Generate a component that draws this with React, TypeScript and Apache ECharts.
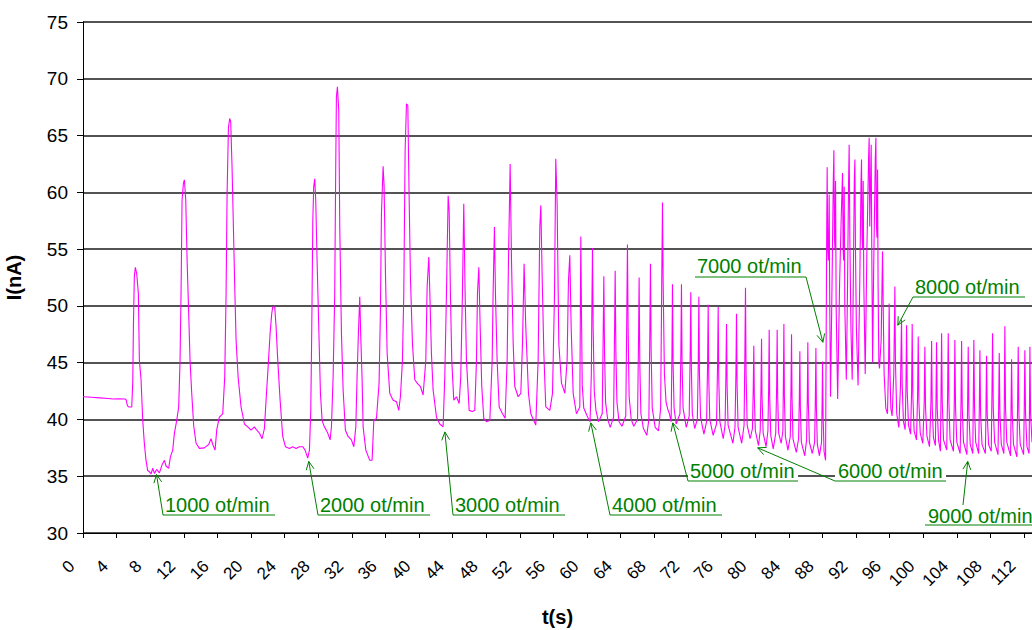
import React, { useEffect, useRef } from 'react';
import * as echarts from 'echarts';

const FONT = '"Liberation Sans", Arial, sans-serif';
const GREEN = '#008000';
const MAGENTA = '#ff00ff';

const xMin = 0;
const xMax = 112.95;
const xStep = 4;
const yMin = 30;
const yMax = 75;
const yStep = 5;

// [t (s), I (nA)]
const seg1000: [number, number][] = [
  [0, 42.0], [1.0, 41.95], [2.0, 41.9], [3.0, 41.85], [3.6, 41.8], [4.2, 41.82], [5.0, 41.8], [5.12, 41.75],
  [5.3, 41.2], [5.44, 41.1], [5.8, 41.1], [5.92, 43.2], [6.0, 48.2], [6.11, 52.6], [6.23, 53.4], [6.39, 52.85],
  [6.59, 51.1], [6.71, 45.2], [6.91, 43.5], [7.11, 39.9], [7.3, 37.9], [7.5, 36.4], [7.7, 35.5], [7.9, 35.4],
  [8.1, 35.2], [8.3, 35.7], [8.5, 35.25], [8.77, 35.6], [9.09, 35.3], [9.41, 36.0], [9.69, 36.4], [9.88, 35.9],
  [10.2, 35.7], [10.4, 36.7], [10.68, 37.3], [10.88, 38.8], [11.15, 39.9], [11.39, 41.1], [11.55, 45.2],
  [11.67, 51.1], [11.79, 59.3], [11.95, 60.8], [12.07, 61.1], [12.23, 59.3], [12.39, 54.0], [12.58, 49.3],
  [12.74, 45.2], [12.94, 42.3], [13.18, 39.4], [13.46, 37.9], [13.85, 37.45], [14.45, 37.5], [14.96, 37.8],
  [15.24, 38.3], [15.44, 37.8], [15.72, 37.3], [15.92, 39.1], [16.23, 40.2], [16.63, 40.5], [16.87, 43.75],
  [17.03, 51.1], [17.15, 59.9], [17.31, 65.7], [17.46, 66.5], [17.58, 66.2], [17.74, 62.2], [17.9, 56.95],
  [18.06, 51.7], [18.22, 47.0], [18.46, 43.75], [18.81, 41.1], [19.21, 39.6], [19.61, 39.35], [20.0, 39.05],
  [20.4, 39.35], [20.68, 39.05], [21.0, 38.8], [21.31, 38.3], [21.59, 39.2], [21.79, 41.7], [22.03, 44.6],
  [22.27, 47.6], [22.46, 49.3], [22.58, 49.9], [22.82, 49.9], [22.98, 48.15], [23.18, 45.2], [23.46, 41.7],
  [23.77, 38.5], [24.09, 37.6], [24.57, 37.45], [24.96, 37.6], [25.36, 37.45], [25.76, 37.6], [26.16, 37.6],
  [26.43, 37.3], [26.75, 36.6], [26.95, 37.3]
];

const seg2000: [number, number][] = [
  [27.11, 40.8], [27.23, 48.15], [27.35, 57.5], [27.46, 60.5], [27.58, 61.2], [27.7, 59.3], [27.86, 54.0],
  [28.06, 48.15], [28.26, 42.3], [28.46, 39.9], [28.73, 39.35], [29.13, 38.8], [29.41, 38.2], [29.57, 39.35],
  [29.77, 43.75], [29.96, 51.1], [30.08, 62.2], [30.16, 68.4], [30.28, 69.3], [30.44, 67.2], [30.56, 56.95],
  [30.76, 47.6], [30.96, 42.6], [31.23, 39.05], [31.55, 38.5], [31.95, 38.2], [32.23, 37.6], [32.47, 39.35],
  [32.62, 43.75], [32.78, 47.6], [32.94, 50.8], [33.06, 47.3], [33.22, 43.5], [33.34, 39.35], [33.66, 37.3],
  [34.13, 36.4], [34.41, 36.4], [34.61, 39.9], [34.93, 40.1], [35.24, 43.2], [35.4, 49.6], [35.52, 58.1],
  [35.72, 62.3], [35.84, 60.5], [36.0, 52.85], [36.2, 45.8], [36.51, 42.3], [36.91, 41.7], [37.31, 41.55],
  [37.58, 40.8], [37.78, 42.0], [38.02, 45.2], [38.18, 51.1], [38.34, 63.7], [38.5, 67.8], [38.66, 67.65],
  [38.81, 59.9], [38.97, 52.55], [39.21, 46.7], [39.49, 43.5], [39.77, 43.2], [40.16, 42.9], [40.48, 42.15],
  [40.8, 45.2], [40.96, 51.7], [41.16, 54.3], [41.27, 51.4], [41.47, 45.8], [41.67, 42.6], [42.07, 40.2],
  [42.46, 39.6], [42.86, 39.35]
];

const seg3000: [number, number][] = [
  [43.06, 43.75], [43.26, 51.1], [43.46, 59.7], [43.58, 58.4], [43.73, 51.1], [43.89, 45.2], [44.13, 41.7],
  [44.45, 42.0], [44.77, 41.4], [44.96, 43.75], [45.16, 51.1], [45.32, 59.0], [45.48, 51.1], [45.64, 45.2],
  [45.96, 40.8], [46.35, 40.7], [46.63, 40.8], [46.83, 45.2], [46.95, 51.1], [47.11, 53.4], [47.27, 48.15],
  [47.46, 42.9], [47.7, 40.1], [48.02, 39.8], [48.42, 39.9], [48.7, 45.2], [48.81, 51.1], [48.97, 56.95],
  [49.09, 51.1], [49.29, 45.2], [49.53, 41.1], [49.93, 40.5], [50.24, 40.1], [50.48, 45.2], [50.64, 54.0],
  [50.84, 62.5], [51.0, 54.0], [51.2, 46.7], [51.39, 42.9], [51.79, 42.0], [52.11, 42.3], [52.31, 46.7],
  [52.5, 53.7], [52.7, 48.15], [53.02, 42.3], [53.3, 40.5], [53.65, 39.9], [53.89, 39.5], [54.17, 45.2],
  [54.37, 56.95], [54.49, 58.85], [54.65, 52.55], [54.85, 45.8], [55.08, 41.1], [55.56, 40.8], [55.88, 42.3],
  [56.12, 51.1], [56.27, 62.95], [56.43, 59.0], [56.63, 46.7], [56.95, 43.2], [57.35, 42.3], [57.62, 45.2],
  [57.78, 52.25], [57.94, 54.45], [58.1, 48.15], [58.34, 42.3], [58.73, 40.5], [59.13, 41.1]
];

const seg4000: [number, number][] = [
  [59.2, 50], [59.25, 56.1], [59.32, 50], [59.42, 43], [59.6, 41], [60.0, 40.3], [60.35, 39.8], [60.5, 44],
  [60.57, 50], [60.64, 55.1], [60.72, 48], [60.85, 42.5], [61.05, 40.8], [61.35, 39.8], [61.8, 40.5],
  [61.92, 48], [61.99, 52.6], [62.07, 46], [62.2, 41.5], [62.45, 40], [62.75, 39.3], [63.15, 40.2],
  [63.27, 48], [63.34, 53.1], [63.42, 46], [63.55, 41.5], [63.8, 39.8], [64.15, 39.4], [64.6, 40.3],
  [64.72, 49], [64.8, 55.4], [64.88, 48], [65.0, 42], [65.25, 40], [65.55, 39.4], [66.0, 40], [66.12, 47],
  [66.19, 52.5], [66.27, 45], [66.4, 40.5], [66.7, 39.2], [67.1, 38.6], [67.35, 40], [67.47, 48],
  [67.54, 53.7], [67.62, 46], [67.75, 41], [68.1, 39.3], [68.5, 39.0], [68.75, 41], [68.88, 52],
  [68.97, 59.1], [69.05, 52], [69.2, 44], [69.4, 41.5], [69.6, 40.9]
];

const seg5000: [number, number][] = [
  [69.8, 40.5], [70.0, 39.8], [70.1, 46], [70.16, 51.9], [70.23, 45], [70.35, 41], [70.6, 39.6],
  [71.05, 40.5], [71.16, 46], [71.23, 51.9], [71.3, 45], [71.42, 41], [71.8, 39.3],
  [72.15, 40.3], [72.27, 46], [72.34, 51.2], [72.41, 44.5], [72.52, 40.5], [72.8, 39.2],
  [73.12, 40], [73.23, 45], [73.3, 50.8], [73.37, 44], [73.5, 40.2], [73.9, 38.7],
  [74.22, 39.8], [74.34, 45], [74.41, 50.1], [74.48, 43.5], [74.6, 40], [75.0, 38.6],
  [75.4, 39.6], [75.53, 45], [75.6, 49.9], [75.67, 43.5], [75.8, 39.8], [76.2, 38.3],
  [76.42, 39.5], [76.52, 44], [76.59, 48.4], [76.66, 43], [76.78, 39.5], [77.35, 37.9],
  [77.6, 39.3], [77.71, 44], [77.78, 49.3], [77.85, 43], [77.97, 39.3], [78.4, 37.9],
  [78.68, 39.5], [78.78, 46], [78.85, 51.6], [78.92, 44], [79.05, 39.5], [79.4, 38.3]
];

const seg6000: [number, number][] = [
  [79.68, 39.2], [79.78, 43], [79.84, 46.5], [79.9, 42], [80.02, 39], [80.4, 37.7],
  [80.6, 39], [80.7, 43], [80.76, 47.1], [80.82, 42], [80.95, 38.8], [81.3, 37.6],
  [81.52, 39], [81.61, 43], [81.67, 47.9], [81.73, 42], [81.86, 38.6], [82.15, 37.4],
  [82.45, 38.8], [82.56, 43], [82.62, 47.9], [82.68, 42], [82.8, 38.8], [83.1, 37.9],
  [83.3, 39], [83.37, 44], [83.42, 48.4], [83.48, 42], [83.6, 38.5], [83.9, 37.3],
  [84.18, 38.5], [84.27, 43], [84.33, 47.5], [84.39, 42], [84.5, 38.3], [84.9, 37.1],
  [85.17, 38.3], [85.26, 42], [85.32, 46.0], [85.38, 41], [85.5, 38], [85.9, 36.8],
  [86.12, 38.2], [86.21, 42], [86.27, 46.8], [86.33, 41.5], [86.45, 38], [86.8, 37.0],
  [87.08, 38], [87.17, 42], [87.23, 46.3], [87.29, 41], [87.4, 37.8], [87.65, 36.8],
  [87.9, 38], [87.97, 41.5], [88.02, 45.1], [88.08, 40.5], [88.2, 37.2], [88.38, 36.4]
];

const seg7000: [number, number][] = [
  [88.45, 47], [88.52, 57], [88.57, 62.2], [88.64, 55], [88.72, 54], [88.81, 59.8], [88.88, 50], [88.97, 42],
  [89.15, 52], [89.3, 61], [89.37, 63.7], [89.44, 56], [89.5, 55], [89.57, 61], [89.64, 50], [89.82, 41.8],
  [90.05, 52], [90.25, 58], [90.4, 61.7], [90.47, 55], [90.53, 54], [90.6, 60.5], [90.67, 50], [90.85, 43.5],
  [91.0, 52], [91.12, 61], [91.19, 64.2], [91.27, 56], [91.4, 48], [91.55, 43.5],
  [91.68, 52], [91.8, 61], [91.87, 62.9], [91.94, 55], [92.05, 48], [92.25, 43],
  [92.45, 52], [92.6, 61], [92.66, 62.9], [92.73, 56], [92.79, 55], [92.86, 61], [92.93, 52], [93.1, 44],
  [93.3, 55], [93.5, 63], [93.57, 64.8], [93.64, 57], [93.72, 57], [93.81, 64.2], [93.88, 55], [93.98, 45],
  [94.1, 53], [94.3, 63], [94.37, 64.8], [94.44, 57], [94.5, 56], [94.57, 62], [94.63, 52], [94.72, 45]
];

const seg8000: [number, number][] = [
  [94.8, 44.5], [95.0, 47], [95.16, 54.8], [95.24, 50], [95.35, 44], [95.55, 41], [95.75, 40.5],
  [95.88, 45], [95.95, 50.2], [96.02, 45], [96.15, 41], [96.3, 40.3], [96.5, 44], [96.63, 51.7],
  [96.7, 45], [96.85, 40.5], [97.1, 39.3], [97.3, 43], [97.42, 48.8], [97.5, 43], [97.65, 39.8], [97.85, 39.1],
  [97.95, 43], [98.02, 48.3], [98.1, 42.5], [98.25, 39.5], [98.5, 38.7],
  [98.62, 42.5], [98.69, 48.4], [98.77, 42], [98.92, 39], [99.2, 38.2],
  [99.33, 42], [99.41, 47.3], [99.49, 41.5], [99.65, 38.8], [99.95, 37.9],
  [100.12, 41.5], [100.2, 46.4], [100.28, 41], [100.45, 38.5], [100.75, 37.6],
  [100.92, 41.5], [101.0, 46.9], [101.08, 41], [101.22, 38.4], [101.45, 37.7],
  [101.52, 41.5], [101.59, 46.8], [101.67, 41], [101.82, 38.2], [102.05, 37.2],
  [102.12, 42], [102.19, 47.6], [102.27, 41.5], [102.42, 38.2], [102.8, 37.3],
  [102.9, 42], [102.98, 47.6], [103.06, 41.5], [103.2, 38.2], [103.6, 37.2],
  [103.7, 41.5], [103.77, 47.0], [103.85, 41], [104.0, 38], [104.4, 37.0]
];

const seg9000: [number, number][] = [
  [104.5, 41.5], [104.57, 46.9], [104.65, 41], [104.8, 38], [105.2, 36.9],
  [105.28, 41], [105.36, 46.4], [105.44, 40.5], [105.6, 37.8], [105.9, 37.0],
  [105.96, 41.5], [106.03, 47.0], [106.11, 41], [106.25, 38], [106.6, 37.0],
  [106.68, 41], [106.75, 46.1], [106.83, 40.5], [107.0, 37.8], [107.4, 37.0],
  [107.47, 40.5], [107.54, 45.6], [107.62, 40.5], [107.78, 37.8], [108.1, 37.2],
  [108.18, 42], [108.26, 47.6], [108.34, 41], [108.5, 38], [108.9, 36.9],
  [108.98, 41], [109.05, 45.85], [109.13, 40.5], [109.3, 37.8], [109.6, 37.0],
  [109.66, 42], [109.72, 48.2], [109.8, 41], [109.95, 38], [110.4, 36.8],
  [110.45, 40.5], [110.52, 45.3], [110.6, 40.5], [110.75, 37.8], [111.15, 36.7],
  [111.23, 41], [111.31, 46.4], [111.39, 40.5], [111.55, 37.8], [111.95, 36.9],
  [112.03, 41], [112.1, 46.1], [112.18, 40.5], [112.35, 37.6], [112.6, 37.0],
  [112.65, 41], [112.7, 46.4], [112.78, 40.5], [112.95, 38]
];

// annotation labels: text box in pixels, arrow tip in data coordinates
const annotations = [
  { label: '1000 ot/min', textX: 165, textY: 505, x0: 163, x1: 275, lineY: 515, fromX: 163, fromY: 515, tip: [8.75, 35.15] },
  { label: '2000 ot/min', textX: 320, textY: 505, x0: 318, x1: 430, lineY: 515, fromX: 318, fromY: 515, tip: [26.87, 36.3] },
  { label: '3000 ot/min', textX: 455, textY: 505, x0: 453, x1: 565, lineY: 515, fromX: 453, fromY: 515, tip: [43.07, 38.9] },
  { label: '4000 ot/min', textX: 612, textY: 505, x0: 610, x1: 722, lineY: 515, fromX: 610, fromY: 515, tip: [60.44, 39.7] },
  { label: '5000 ot/min', textX: 690, textY: 471, x0: 688, x1: 798, lineY: 481, fromX: 688, fromY: 481, tip: [70.2, 39.7] },
  { label: '6000 ot/min', textX: 838, textY: 471, x0: 835, x1: 946, lineY: 481, fromX: 835, fromY: 481, tip: [80.3, 37.5] },
  { label: '7000 ot/min', textX: 697, textY: 266, x0: 695, x1: 806, lineY: 277, fromX: 806, fromY: 277, tip: [88.06, 46.8] },
  { label: '8000 ot/min', textX: 915, textY: 287, x0: 913, x1: 1025, lineY: 297, fromX: 913, fromY: 297, tip: [96.98, 48.3] },
  { label: '9000 ot/min', textX: 928, textY: 516, x0: 925, x1: 1045, lineY: 525, fromX: 963, fromY: 505, tip: [105.3, 36.3] }
];

function buildGraphics(chart: echarts.ECharts) {
  const els: any[] = [];
  annotations.forEach((a) => {
    const p = chart.convertToPixel({ gridIndex: 0 }, a.tip) as number[];
    const tx = p[0];
    const ty = p[1];
    els.push({
      type: 'rect', z: 100,
      shape: { x: a.x0, y: a.textY - 10, width: a.x1 - a.x0, height: a.lineY - a.textY + 10 },
      style: { fill: '#ffffff' }
    });
    els.push({
      type: 'text', z: 101, x: a.textX, y: a.textY,
      style: {
        text: a.label, font: `20px ${FONT}`, fill: GREEN,
        textVerticalAlign: 'middle', verticalAlign: 'middle', textAlign: 'left', align: 'left'
      }
    });
    els.push({
      type: 'line', z: 101,
      shape: { x1: a.x0, y1: a.lineY, x2: a.x1, y2: a.lineY },
      style: { stroke: GREEN, lineWidth: 1 }
    });
    els.push({
      type: 'line', z: 101,
      shape: { x1: a.fromX, y1: a.fromY, x2: tx, y2: ty },
      style: { stroke: GREEN, lineWidth: 1 }
    });
    const dx = a.fromX - tx;
    const dy = a.fromY - ty;
    const len = Math.hypot(dx, dy) || 1;
    const ux = dx / len;
    const uy = dy / len;
    const ang = 0.45;
    const L = 9;
    const ax = tx + L * (ux * Math.cos(ang) - uy * Math.sin(ang));
    const ay = ty + L * (ux * Math.sin(ang) + uy * Math.cos(ang));
    const bx = tx + L * (ux * Math.cos(-ang) - uy * Math.sin(-ang));
    const by = ty + L * (ux * Math.sin(-ang) + uy * Math.cos(-ang));
    els.push({
      type: 'polyline', z: 101,
      shape: { points: [[ax, ay], [tx, ty], [bx, by]] },
      style: { stroke: GREEN, lineWidth: 1, fill: 'none' }
    });
  });
  return els;
}

export default function App() {
  const ref = useRef<HTMLDivElement>(null);

  useEffect(() => {
    if (!ref.current) return;
    const chart = echarts.init(ref.current, null, { renderer: 'svg' });
    const data = [
      ...seg1000, ...seg2000, ...seg3000, ...seg4000, ...seg5000,
      ...seg6000, ...seg7000, ...seg8000, ...seg9000
    ];
    chart.setOption({
      animation: false,
      backgroundColor: '#ffffff',
      grid: { left: 83, top: 22, width: 949, height: 511, containLabel: false, outerBoundsMode: 'none' },
      xAxis: {
        type: 'value', min: xMin, max: xMax, interval: xStep,
        name: 't(s)', nameLocation: 'middle', nameGap: 74,
        nameTextStyle: { fontFamily: FONT, fontWeight: 'bold', fontSize: 20, color: '#000' },
        axisLine: { show: true, onZero: false, lineStyle: { color: '#000', width: 1 } },
        axisTick: { show: true, inside: false, length: 5, lineStyle: { color: '#000', width: 1 } },
        axisLabel: {
          rotate: 45, fontSize: 17, fontFamily: FONT, color: '#000', margin: 19,
          padding: [0, 16, 0, 0],
          formatter: (v: number) => (Math.abs(v % xStep) < 1e-9 ? String(v) : '')
        },
        splitLine: { show: false }
      },
      yAxis: {
        type: 'value', min: yMin, max: yMax, interval: yStep,
        name: 'I(nA)', nameLocation: 'middle', nameGap: 59, nameRotate: 90,
        nameTextStyle: { fontFamily: FONT, fontWeight: 'bold', fontSize: 20, color: '#000' },
        axisLine: { show: true, onZero: false, lineStyle: { color: '#000', width: 1 } },
        axisTick: { show: true, inside: false, length: 6, lineStyle: { color: '#000', width: 1 } },
        axisLabel: { fontSize: 19, fontFamily: FONT, color: '#000', margin: 15 },
        splitLine: { show: true, lineStyle: { color: '#1a1a1a', width: 1.5 } }
      },
      series: [
        {
          type: 'line', data, showSymbol: false, symbol: 'none', silent: true,
          lineStyle: { color: MAGENTA, width: 1.1 }, clip: true, z: 2
        }
      ]
    });
    chart.setOption({ graphic: buildGraphics(chart) });
    return () => chart.dispose();
  }, []);

  return (
    <div
      ref={ref}
      style={{ position: 'fixed', left: 0, top: 0, width: '1032px', height: '630px', background: '#fff' }}
    />
  );
}
